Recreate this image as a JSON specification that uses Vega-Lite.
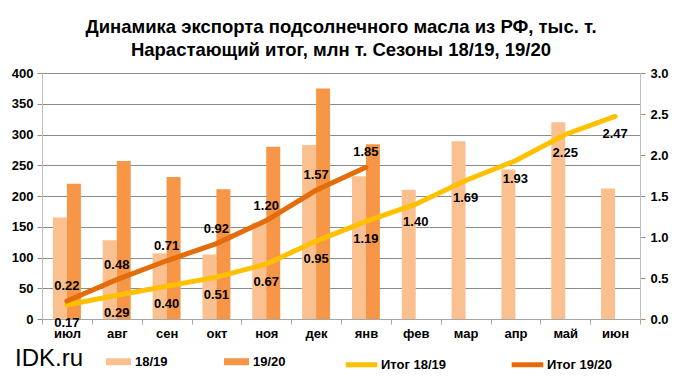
{
  "$schema": "https://vega.github.io/schema/vega-lite/v6.json",
  "autosize": {"type": "none"},
  "padding": {"left": 42, "top": 73, "right": 42, "bottom": 70},
  "width": 598,
  "height": 246,
  "background": "white",
  "title": {
    "text": ["Динамика экспорта подсолнечного масла из РФ, тыс. т.", "Нарастающий итог, млн  т. Сезоны 18/19, 19/20"],
    "font": "Liberation Sans",
    "fontSize": 18.5,
    "fontWeight": "bold",
    "color": "#000000",
    "anchor": "middle",
    "lineHeight": 23,
    "offset": 8
  },
  "datasets": {
    "bars": [
      {"month": "июл", "series": "18/19", "value": 165},
      {"month": "июл", "series": "19/20", "value": 220},
      {"month": "авг", "series": "18/19", "value": 128},
      {"month": "авг", "series": "19/20", "value": 257},
      {"month": "сен", "series": "18/19", "value": 107},
      {"month": "сен", "series": "19/20", "value": 231},
      {"month": "окт", "series": "18/19", "value": 105},
      {"month": "окт", "series": "19/20", "value": 211},
      {"month": "ноя", "series": "18/19", "value": 157},
      {"month": "ноя", "series": "19/20", "value": 280},
      {"month": "дек", "series": "18/19", "value": 283},
      {"month": "дек", "series": "19/20", "value": 375},
      {"month": "янв", "series": "18/19", "value": 232},
      {"month": "янв", "series": "19/20", "value": 284},
      {"month": "фев", "series": "18/19", "value": 210},
      {"month": "мар", "series": "18/19", "value": 289},
      {"month": "апр", "series": "18/19", "value": 243},
      {"month": "май", "series": "18/19", "value": 320},
      {"month": "июн", "series": "18/19", "value": 212}
    ],
    "totals": [
      {"month": "июл", "series": "Итог 18/19", "total": 0.17},
      {"month": "авг", "series": "Итог 18/19", "total": 0.29},
      {"month": "сен", "series": "Итог 18/19", "total": 0.40},
      {"month": "окт", "series": "Итог 18/19", "total": 0.51},
      {"month": "ноя", "series": "Итог 18/19", "total": 0.67},
      {"month": "дек", "series": "Итог 18/19", "total": 0.95},
      {"month": "янв", "series": "Итог 18/19", "total": 1.19},
      {"month": "фев", "series": "Итог 18/19", "total": 1.40},
      {"month": "мар", "series": "Итог 18/19", "total": 1.69},
      {"month": "апр", "series": "Итог 18/19", "total": 1.93},
      {"month": "май", "series": "Итог 18/19", "total": 2.25},
      {"month": "июн", "series": "Итог 18/19", "total": 2.47},
      {"month": "июл", "series": "Итог 19/20", "total": 0.22},
      {"month": "авг", "series": "Итог 19/20", "total": 0.48},
      {"month": "сен", "series": "Итог 19/20", "total": 0.71},
      {"month": "окт", "series": "Итог 19/20", "total": 0.92},
      {"month": "ноя", "series": "Итог 19/20", "total": 1.20},
      {"month": "дек", "series": "Итог 19/20", "total": 1.57},
      {"month": "янв", "series": "Итог 19/20", "total": 1.85}
    ]
  },
  "encoding": {
    "x": {
      "field": "month",
      "type": "nominal",
      "sort": ["июл", "авг", "сен", "окт", "ноя", "дек", "янв", "фев", "мар", "апр", "май", "июн"],
      "scale": {"domain": ["июл", "авг", "сен", "окт", "ноя", "дек", "янв", "фев", "мар", "апр", "май", "июн"], "paddingInner": 0, "paddingOuter": 0},
      "axis": {
        "title": null,
        "labelAngle": 0,
        "tickBand": "extent",
        "domainColor": "#A6A6A6",
        "tickColor": "#A6A6A6",
        "tickSize": 5,
        "labelPadding": 3,
        "labelFont": "Liberation Sans",
        "labelFontSize": 13,
        "labelFontWeight": "bold",
        "labelColor": "#000000",
        "grid": false
      }
    }
  },
  "layer": [
    {
      "data": {"name": "bars"},
      "mark": {"type": "bar"},
      "encoding": {
        "xOffset": {
          "field": "series",
          "type": "nominal",
          "scale": {"domain": ["18/19", "19/20"], "paddingInner": 0, "paddingOuter": 0.78}
        },
        "y": {
          "field": "value",
          "type": "quantitative",
          "scale": {"domain": [0, 400]},
          "axis": {
            "title": null,
            "values": [0, 50, 100, 150, 200, 250, 300, 350, 400],
            "grid": true,
            "gridColor": "#8C8C8C",
            "domainColor": "#BFBFBF",
            "tickColor": "#8C8C8C",
            "tickSize": 5,
            "labelPadding": 4,
            "labelFont": "Liberation Sans",
            "labelFontSize": 13,
            "labelFontWeight": "bold",
            "labelColor": "#000000"
          }
        },
        "fill": {
          "field": "series",
          "type": "nominal",
          "scale": {"domain": ["18/19", "19/20"], "range": ["#FAC090", "#F79646"]},
          "legend": {
            "title": "IDK.ru",
            "titleOrient": "left",
            "titleFont": "Liberation Sans",
            "titleFontSize": 24,
            "titleFontWeight": "normal",
            "titleColor": "#000000",
            "titlePadding": 22,
            "orient": "none",
            "legendX": -27,
            "legendY": 276,
            "direction": "horizontal",
            "columnPadding": 56,
            "symbolType": "M-1,-0.28H1V0.28H-1Z",
            "symbolSize": 625,
            "symbolStrokeWidth": 0,
            "labelFont": "Liberation Sans",
            "labelFontSize": 13,
            "labelFontWeight": "bold",
            "labelColor": "#000000",
            "labelOffset": 4
          }
        }
      }
    },
    {
      "data": {"name": "totals"},
      "encoding": {
        "y": {
          "field": "total",
          "type": "quantitative",
          "scale": {"domain": [0, 3]},
          "axis": {
            "title": null,
            "orient": "right",
            "values": [0, 0.5, 1, 1.5, 2, 2.5, 3],
            "format": ".1f",
            "grid": false,
            "domainColor": "#BFBFBF",
            "tickColor": "#8C8C8C",
            "tickSize": 5,
            "labelPadding": 5,
            "labelFont": "Liberation Sans",
            "labelFontSize": 13,
            "labelFontWeight": "bold",
            "labelColor": "#000000"
          }
        }
      },
      "layer": [
        {
          "mark": {"type": "line", "strokeWidth": 5, "strokeCap": "round", "interpolate": "linear"},
          "encoding": {
            "stroke": {
              "field": "series",
              "type": "nominal",
              "scale": {"domain": ["Итог 18/19", "Итог 19/20"], "range": ["#FFC000", "#E46C0A"]},
              "legend": {
                "title": null,
                "orient": "none",
                "legendX": 301,
                "legendY": 273,
                "direction": "horizontal",
                "columnPadding": 54,
                "symbolType": "stroke",
                "symbolSize": 1000,
                "symbolStrokeWidth": 5,
                "labelFont": "Liberation Sans",
                "labelFontSize": 13,
                "labelFontWeight": "bold",
                "labelColor": "#000000",
                "labelOffset": 1
              }
            }
          }
        },
        {
          "transform": [{"filter": "datum.series == 'Итог 18/19'"}],
          "mark": {"type": "text", "dy": 18, "font": "Liberation Sans", "fontSize": 13, "fontWeight": "bold", "color": "#000000"},
          "encoding": {
            "text": {"field": "total", "type": "quantitative", "format": ".2f"}
          }
        },
        {
          "transform": [{"filter": "datum.series == 'Итог 19/20'"}],
          "mark": {"type": "text", "dy": -15, "font": "Liberation Sans", "fontSize": 13, "fontWeight": "bold", "color": "#000000"},
          "encoding": {
            "text": {"field": "total", "type": "quantitative", "format": ".2f"}
          }
        }
      ]
    }
  ],
  "resolve": {"scale": {"y": "independent"}},
  "config": {
    "view": {"stroke": null},
    "font": "Liberation Sans"
  }
}
